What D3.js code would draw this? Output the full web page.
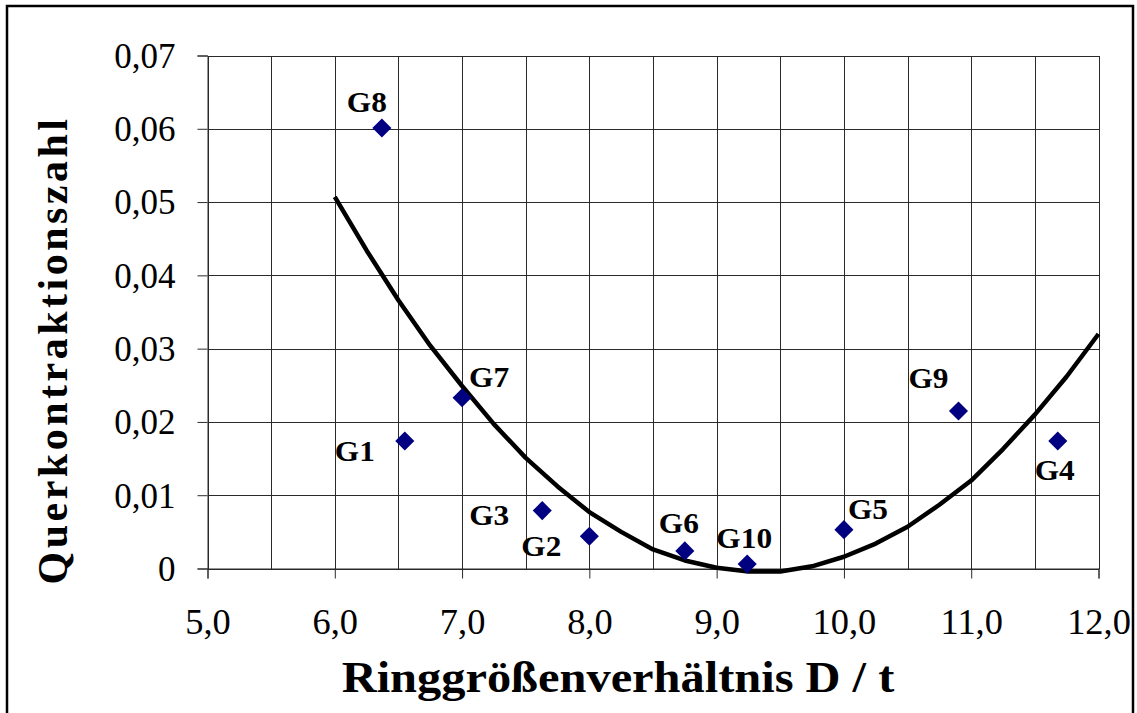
<!DOCTYPE html>
<html>
<head>
<meta charset="utf-8">
<script src="https://cdn.jsdelivr.net/npm/d3@7"></script>
<style>
  html, body { margin: 0; padding: 0; background: #fff; }
  svg { display: block; }
  text { font-family: "Liberation Serif", "Times New Roman", serif; fill: #000; }
</style>
</head>
<body>
<svg id="chart" width="1137" height="713"></svg>
<script>
// Specimen data: ring size ratio D/t vs. transverse contraction ratio
const specimen = ["G1", "G2", "G3", "G4", "G5", "G6", "G7", "G8", "G9", "G10"];
const ratioDt  = [6.55, 8.00, 7.63, 11.68, 10.00, 8.75, 7.00, 6.37, 10.90, 9.24];
const querkontraktion = [0.0174, 0.0044, 0.0079, 0.0174, 0.0053, 0.0024, 0.0233, 0.0601, 0.0215, 0.0006];

// Polynomial trend line (2nd order), sampled points
const trendDt  = [6.00, 6.25, 6.50, 6.75, 7.00, 7.25, 7.50, 7.75, 8.00, 8.25, 8.50, 8.75,
                  9.00, 9.25, 9.50, 9.75, 10.00, 10.25, 10.50, 10.75, 11.00, 11.25, 11.50, 11.75, 12.00];
const trendVal = [0.0507, 0.0434, 0.0366, 0.0304, 0.0249, 0.0197, 0.0151, 0.0112, 0.0077, 0.0050,
                  0.0026, 0.0011, 0.0001, -0.0004, -0.0004, 0.0003, 0.0016, 0.0034, 0.0057, 0.0087,
                  0.0120, 0.0163, 0.0210, 0.0262, 0.0320];

// Axis ticks
const xTickValues = [5, 6, 7, 8, 9, 10, 11, 12];
const xGridValues = [5, 5.5, 6, 6.5, 7, 7.5, 8, 8.5, 9, 9.5, 10, 10.5, 11, 11.5, 12];
const yTickValues = [0, 0.01, 0.02, 0.03, 0.04, 0.05, 0.06, 0.07];
const yTickLabels = ["0", "0,01", "0,02", "0,03", "0,04", "0,05", "0,06", "0,07"];

// Data label offsets (px) from each marker: [dx, dy-baseline]
const labelOffsets = [[-50, 20], [-48, 20], [-53, 14], [-3, 39], [24, -11],
                      [-6, -18], [27, -11], [-15, -16], [-30, -23], [-3, -16]];

const svg = d3.select("#chart");

const plot = { left: 207.5, right: 1098.5, top: 55.5, bottom: 568.5 };

const x = d3.scaleLinear().domain([5, 12]).range([plot.left, plot.right]);
const y = d3.scaleLinear().domain([0, 0.07]).range([plot.bottom, plot.top]);

// Outer frame
svg.append("rect")
  .attr("x", 7).attr("y", 6).attr("width", 1126).attr("height", 730)
  .attr("fill", "#fff").attr("stroke", "#000").attr("stroke-width", 2.5);

// Grid
const grid = svg.append("g").attr("stroke", "#2a2a2a").attr("stroke-width", 1).attr("shape-rendering", "crispEdges");
grid.selectAll("line.v").data(xGridValues).join("line")
  .attr("class", "v")
  .attr("x1", d => Math.round(x(d)) + 0.5).attr("x2", d => Math.round(x(d)) + 0.5)
  .attr("y1", plot.top).attr("y2", plot.bottom);
grid.selectAll("line.h").data(yTickValues).join("line")
  .attr("class", "h")
  .attr("x1", plot.left).attr("x2", plot.right)
  .attr("y1", d => Math.round(y(d)) + 0.5).attr("y2", d => Math.round(y(d)) + 0.5);

// Axes (ticks outward, labels with decimal comma)
const xAxis = d3.axisBottom(x)
  .tickValues(xTickValues)
  .tickSize(10)
  .tickPadding(31)
  .tickFormat(d => d3.format(".1f")(d).replace(".", ","));
const gx = svg.append("g")
  .attr("transform", `translate(0,${plot.bottom})`)
  .call(xAxis);
gx.select(".domain").attr("stroke", "#2a2a2a");
gx.selectAll(".tick line").attr("stroke", "#2a2a2a");
gx.selectAll(".tick text")
  .attr("font-size", 35)
  .attr("dy", "0.71em")
  .attr("transform", "scale(1.04,1)");

const yAxis = d3.axisLeft(y)
  .tickValues(yTickValues)
  .tickSize(10)
  .tickPadding(22)
  .tickFormat((d, i) => yTickLabels[i]);
const gy = svg.append("g")
  .attr("transform", `translate(${plot.left},0)`)
  .call(yAxis);
gy.select(".domain").attr("stroke", "#2a2a2a");
gy.selectAll(".tick line").attr("stroke", "#2a2a2a");
gy.selectAll(".tick text")
  .attr("font-size", 35)
  .attr("dy", "0.34em");

// Trend line
const line = d3.line().x(d => x(d[0])).y(d => y(d[1]));
svg.append("path")
  .datum(trendDt.map((d, i) => [d, trendVal[i]]))
  .attr("d", line)
  .attr("fill", "none")
  .attr("stroke", "#000")
  .attr("stroke-width", 4.5)
  .attr("stroke-linejoin", "round");

// Markers (navy diamonds)
const diamond = d3.symbol().type(d3.symbolSquare).size(182);
svg.append("g").selectAll("path").data(specimen).join("path")
  .attr("d", diamond)
  .attr("fill", "#000080")
  .attr("transform", (d, i) => `translate(${x(ratioDt[i])},${y(querkontraktion[i])}) rotate(45)`);

// Data labels
svg.append("g").selectAll("text").data(specimen).join("text")
  .attr("transform", (d, i) =>
    `translate(${x(ratioDt[i]) + labelOffsets[i][0]},${y(querkontraktion[i]) + labelOffsets[i][1]}) scale(1.08,1)`)
  .attr("text-anchor", "middle")
  .attr("font-size", 29)
  .attr("font-weight", "bold")
  .text(d => d);

// Axis titles
svg.append("text")
  .attr("transform", "translate(618,692) scale(1.1,1)")
  .attr("text-anchor", "middle")
  .attr("font-size", 44)
  .attr("font-weight", "bold")
  .text("Ringgrößenverhältnis D / t");

svg.append("text")
  .attr("transform", "translate(67,350) rotate(-90)")
  .attr("text-anchor", "middle")
  .attr("font-size", 42)
  .attr("font-weight", "bold")
  .attr("letter-spacing", 3.5)
  .text("Querkontraktionszahl");
</script>
</body>
</html>
